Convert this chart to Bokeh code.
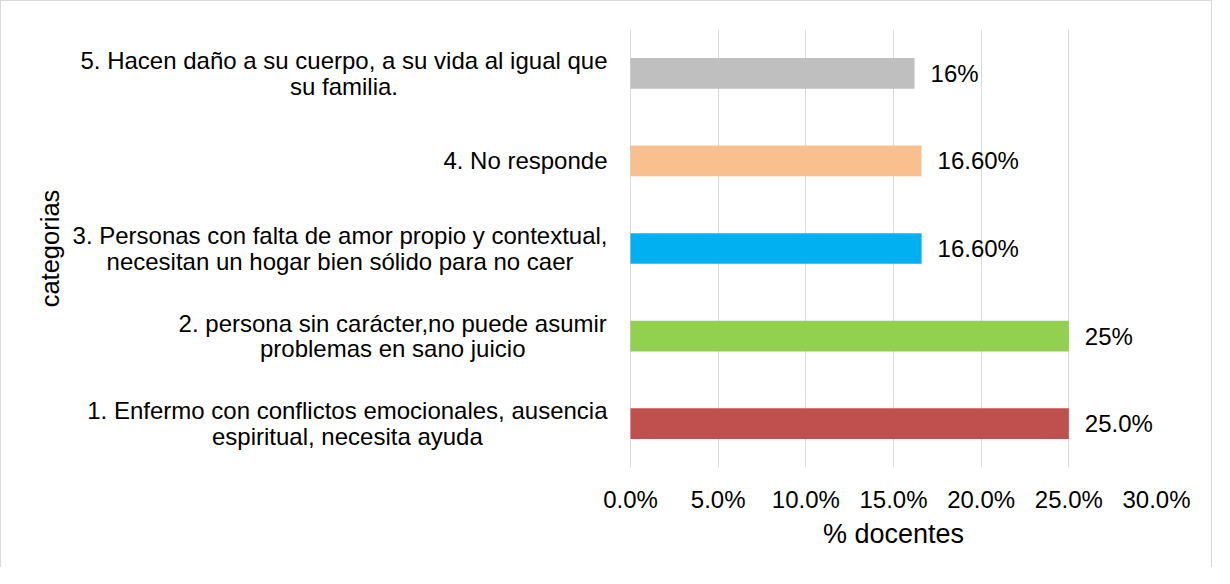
from bokeh.plotting import figure
from bokeh.models import ColumnDataSource, FactorRange, Range1d, FixedTicker, NumeralTickFormatter, Title
from bokeh.core.properties import value
from bokeh.embed import file_html
from bokeh.resources import INLINE

# ---- data (bottom to top) ----
categories = [
    "1. Enfermo con conflictos emocionales, ausencia\nespiritual, necesita ayuda",
    "2. persona sin carácter,no puede asumir\nproblemas en sano juicio",
    "3. Personas con falta de amor propio y contextual,\nnecesitan un hogar bien sólido para no caer",
    "4. No responde",
    "5. Hacen daño a su cuerpo, a su vida al igual que\nsu familia.",
]
values = [0.25, 0.25, 0.166, 0.166, 0.162]
value_labels = ["25.0%", "25%", "16.60%", "16.60%", "16%"]
colors = ["#C0504D", "#92D050", "#00B0F0", "#F9BF8F", "#BFBFBF"]
x_ticks = [0.0, 0.05, 0.10, 0.15, 0.20, 0.25, 0.30]
x_max = 0.30
x_title = "% docentes"
y_title = "categorias"

FONT = "Liberation Sans"
LABEL_PX = 24
XTITLE_PX = 27
GAP = 23           # px between category label block and the bar area
FRAME_W = 1086     # px, whole frame (label zone + bar zone)
BAR_ZONE_W = 526   # px, the 0 .. 30% zone

# Arial / Liberation Sans advance widths (per 1000 em) used to place wrapped lines
_W = {" ": 278, ".": 278, ",": 278, "%": 889, "c": 500, "f": 278, "i": 222, "j": 222, "k": 500,
      "l": 222, "m": 833, "r": 333, "s": 500, "t": 278, "v": 500, "w": 722, "x": 500, "y": 500,
      "z": 500, "E": 667, "P": 667, "N": 722, "H": 722}


def text_width(s, px):
    return sum(_W.get(ch, 556) for ch in s) / 1000.0 * px


block_w = [max(text_width(line, LABEL_PX) for line in c.split("\n")) for c in categories]
cat_offsets = [-(GAP + w / 2.0) for w in block_w]
x_min = -x_max * (FRAME_W - BAR_ZONE_W) / BAR_ZONE_W

src = ColumnDataSource(dict(cat=categories, val=values, lab=value_labels, col=colors,
                            zero=[0.0] * len(categories), off=cat_offsets))

p = figure(
    y_range=FactorRange(factors=categories, range_padding=0),
    x_range=Range1d(x_min, x_max),
    width=1212, height=567,
    min_border_left=69, min_border_right=57, min_border_top=28, min_border_bottom=101,
    output_backend="svg", toolbar_location=None,
)
p.styles = {"border": "1px solid #D9D9D9", "border-bottom": "none"}
p.outline_line_color = None
p.background_fill_color = "white"
p.border_fill_color = "white"

p.hbar(y="cat", left=0, right="val", height=0.35, fill_color="col", line_color=None, source=src)
p.text(x="val", y="cat", text="lab", x_offset=16, text_baseline="middle", text_align="left",
       text_font=value(FONT), text_font_size="24px", text_color="#000000", source=src)

# category labels (wrapped, lines centred, block right-aligned next to the bars)
p.text(x="zero", y="cat", text="cat", x_offset="off", source=src,
       text_align="center", text_baseline="middle", text_line_height=0.95,
       text_font=value(FONT), text_font_size=f"{LABEL_PX}px", text_color="#000000")

# grid
p.xgrid.grid_line_color = "#D9D9D9"
p.xgrid.grid_line_width = 1
p.ygrid.visible = False

# x axis (ticks only under the bar zone)
xa = p.xaxis[0]
xa.ticker = FixedTicker(ticks=x_ticks)
xa.bounds = (0, x_max)
xa.formatter = NumeralTickFormatter(format="0.0%")
xa.axis_line_color = None
xa.major_tick_line_color = None
xa.minor_tick_line_color = None
xa.major_tick_out = 0
xa.major_tick_in = 0
xa.major_label_standoff = 18
xa.major_label_text_font = FONT
xa.major_label_text_font_size = "24px"
xa.major_label_text_color = "#000000"

# x title centred under the bar zone
title_offset = (FRAME_W - BAR_ZONE_W) + BAR_ZONE_W / 2.0 - text_width(x_title, XTITLE_PX) / 2.0
p.add_layout(Title(text=x_title, align="left", offset=title_offset, standoff=6,
                   vertical_align="top", text_font=FONT, text_font_size=f"{XTITLE_PX}px",
                   text_font_style="normal", text_color="#000000"), "below")

# y axis: category axis hidden (labels drawn above); its title as a left title
p.yaxis[0].visible = False
p.add_layout(Title(text=y_title, align="center", standoff=14,
                   text_font=FONT, text_font_size="25.5px",
                   text_font_style="normal", text_color="#000000"), "left")

open("out.html", "w").write(file_html(p, INLINE))
